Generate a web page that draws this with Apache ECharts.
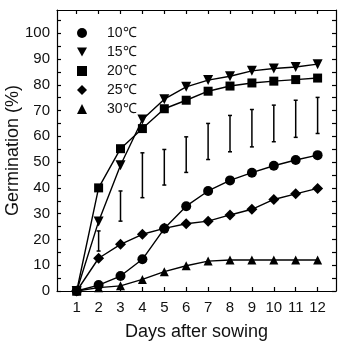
<!DOCTYPE html>
<html>
<head>
<meta charset="utf-8">
<script src="https://cdn.jsdelivr.net/npm/echarts@6/dist/echarts.min.js"></script>
<style>
  html, body { margin: 0; padding: 0; background: #fff; }
  #chart { width: 344px; height: 342px; }
</style>
</head>
<body>
<div id="chart"></div>
<script>
// days after sowing
const days = [1, 2, 3, 4, 5, 6, 7, 8, 9, 10, 11, 12];
// germination (%) per temperature
const g10 = [0, 2.3, 5.8, 12.3, 24.2, 32.9, 38.8, 42.9, 45.9, 48.6, 50.8, 52.7];
const g15 = [0, 27, 48.8, 66.5, 74.4, 79.2, 81.8, 83.3, 85.4, 86.3, 86.9, 88];
const g20 = [0, 40, 55.2, 63, 70.7, 74, 77.5, 79.5, 80.7, 81.4, 82, 82.6];
const g25 = [0, 12.7, 18.1, 22, 24.3, 26.1, 27.1, 29.5, 31.7, 35.5, 37.7, 39.8];
const g30 = [0, 1.3, 2, 4.5, 7.5, 9.8, 11.6, 12, 12, 12, 12, 12];
// bars (days 2-12): low / high
const barDays = [2, 3, 4, 5, 6, 7, 8, 9, 10, 11, 12];
const barLow = [15.5, 27.1, 36.2, 41.1, 46, 51, 54, 55.9, 57.9, 59.6, 61.1];
const barHigh = [23.3, 38.8, 53.6, 54.9, 59.8, 65, 68.1, 70.4, 72.1, 74, 75.1];
// axis ticks
const yTicks = [0, 5, 10, 15, 20, 25, 30, 35, 40, 45, 50, 55, 60, 65, 70, 75, 80, 85, 90, 95, 100, 105];
const yLabels = [0, 10, 20, 30, 40, 50, 60, 70, 80, 90, 100];

const downTri = 'path://M0,0 L10,0 L5,9 Z';
const font = 'Liberation Sans, Arial, sans-serif';

const chart = echarts.init(document.getElementById('chart'));

const axisLine = { show: true, onZero: false, lineStyle: { color: '#000', width: 1.2 } };
const tick = (vals) => ({ show: true, inside: true, length: 4, customValues: vals, lineStyle: { color: '#000', width: 1.2 } });

function pairs(ys) {
  return days.map((d, i) => [d, ys[i]]);
}

function lineSeries(name, ys, symbol, size) {
  return {
    name: name,
    type: 'line',
    data: pairs(ys),
    symbol: symbol,
    symbolSize: size,
    lineStyle: { color: '#000', width: 1.4 },
    itemStyle: { color: '#000' },
    z: 3
  };
}

chart.setOption({
  animation: false,
  grid: { left: 57, right: 8, top: 10, bottom: 51, outerBoundsMode: 'none' },
  legend: {
    orient: 'vertical',
    left: 72,
    top: 21,
    itemWidth: 10,
    itemHeight: 10,
    itemGap: 5,
    textStyle: { fontSize: 14, lineHeight: 14, color: '#111', fontFamily: font, padding: [0, 0, 0, 15] },
    data: [
      { name: '10℃', icon: 'circle' },
      { name: '15℃', icon: downTri },
      { name: '20℃', icon: 'rect' },
      { name: '25℃', icon: 'diamond' },
      { name: '30℃', icon: 'triangle' }
    ]
  },
  xAxis: [
    {
      type: 'value', min: 0.1, max: 12.84,
      axisLine: axisLine, axisTick: tick(days), splitLine: { show: false },
      axisLabel: { customValues: days, fontSize: 15, color: '#111', margin: 9, fontFamily: font },
      name: 'Days after sowing', nameLocation: 'middle', nameGap: 32,
      nameMoveOverlap: false,
      nameTextStyle: { fontSize: 18, color: '#111', fontFamily: font }
    },
    {
      type: 'value', position: 'top', min: 0.1, max: 12.84,
      axisLine: axisLine, axisTick: tick(days), splitLine: { show: false },
      axisLabel: { show: false }
    }
  ],
  yAxis: [
    {
      type: 'value', min: 0, max: 109,
      axisLine: axisLine, axisTick: tick(yTicks), splitLine: { show: false },
      axisLabel: { customValues: yLabels, fontSize: 15, color: '#111', margin: 7, fontFamily: font },
      name: 'Germination (%)', nameLocation: 'middle', nameGap: 35, nameRotate: 90,
      nameMoveOverlap: false,
      nameTextStyle: { fontSize: 18, color: '#111', fontFamily: font }
    },
    {
      type: 'value', position: 'right', min: 0, max: 109,
      axisLine: axisLine, axisTick: tick(yTicks), splitLine: { show: false },
      axisLabel: { show: false }
    }
  ],
  series: [
    {
      type: 'custom',
      data: barDays.map((d, i) => [d, barLow[i], barHigh[i]]),
      renderItem: function (params, api) {
        const lo = api.coord([api.value(0), api.value(1)]);
        const hi = api.coord([api.value(0), api.value(2)]);
        const c = 2;
        const st = { stroke: '#000', lineWidth: 1.5 };
        return {
          type: 'group',
          children: [
            { type: 'line', shape: { x1: lo[0], y1: lo[1], x2: hi[0], y2: hi[1] }, style: st },
            { type: 'line', shape: { x1: lo[0] - c, y1: lo[1], x2: lo[0] + c, y2: lo[1] }, style: st },
            { type: 'line', shape: { x1: hi[0] - c, y1: hi[1], x2: hi[0] + c, y2: hi[1] }, style: st }
          ]
        };
      },
      z: 2
    },
    lineSeries('10℃', g10, 'circle', 10),
    lineSeries('15℃', g15, downTri, 10),
    lineSeries('20℃', g20, 'rect', 9),
    lineSeries('25℃', g25, 'diamond', 11),
    lineSeries('30℃', g30, 'triangle', 9)
  ]
});
</script>
</body>
</html>
